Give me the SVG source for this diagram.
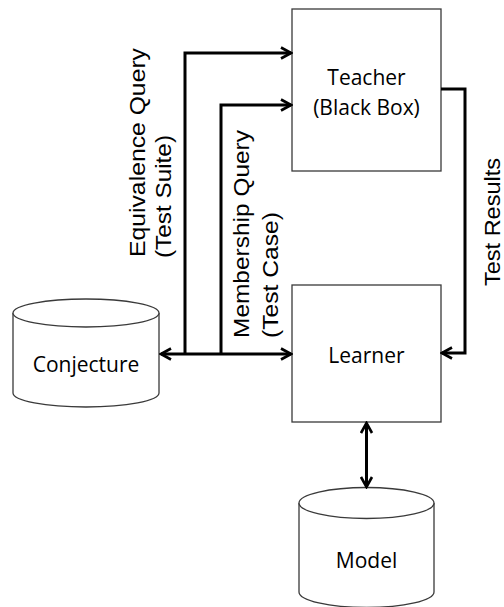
<svg xmlns="http://www.w3.org/2000/svg" width="504" height="607" viewBox="0 0 504 607">
<style>
.box{fill:#fff;stroke:#3a3a3a;stroke-width:1.3}
.node{font-family:"Open Sans","Noto Sans",sans-serif;font-size:21px;fill:#000;text-anchor:middle}
.lbl{font-family:"Liberation Sans",Arial,sans-serif;font-size:22px;fill:#000}
.conn{fill:none;stroke:#000;stroke-width:3;stroke-linejoin:miter}
</style>
<defs>
<marker id="ah" viewBox="0 0 14 14" refX="12" refY="7" markerWidth="14" markerHeight="14" markerUnits="userSpaceOnUse" orient="auto-start-reverse">
<path d="M2,1.5 L12,7 L2,12.5" fill="none" stroke="#000" stroke-width="2.6"/>
</marker>
</defs>
<rect width="504" height="607" fill="#fff"/>
<g id="teacher">
<rect class="box" x="292" y="9" width="149" height="162"/>
<text class="node" x="366.5" y="85">Teacher</text>
<text class="node" x="366.5" y="115">(Black Box)</text>
</g>
<g id="learner">
<rect class="box" x="292" y="285" width="149" height="137"/>
<text class="node" x="366.5" y="363">Learner</text>
</g>
<g id="conjecture">
<path class="box" d="M13,313 L13,393 A73,14 0 0 0 159,393 L159,313"/>
<ellipse class="box" cx="86" cy="313" rx="73" ry="14"/>
<text class="node" x="86" y="372">Conjecture</text>
</g>
<g id="model">
<path class="box" d="M299,503 L299,592 A67.5,15.5 0 0 0 434,592 L434,503"/>
<ellipse class="box" cx="366.5" cy="503" rx="67.5" ry="15.5"/>
<text class="node" x="366.5" y="568">Model</text>
</g>
<g id="connectors">
<path class="conn" d="M185,354 L185,53 L291,53" marker-end="url(#ah)"/>
<path class="conn" d="M221,354 L221,105 L291,105" marker-end="url(#ah)"/>
<path class="conn" d="M161,354 L291,354" marker-start="url(#ah)" marker-end="url(#ah)"/>
<path class="conn" d="M441,89 L465,89 L465,353 L442,353" marker-end="url(#ah)"/>
<path class="conn" d="M366.5,423 L366.5,487" marker-start="url(#ah)" marker-end="url(#ah)"/>
</g>
<g id="labels">
<text class="lbl" transform="translate(145,257) rotate(-90)" textLength="209" lengthAdjust="spacingAndGlyphs">Equivalence Query</text>
<text class="lbl" transform="translate(171,258) rotate(-90)" textLength="123" lengthAdjust="spacingAndGlyphs">(Test Suite)</text>
<text class="lbl" transform="translate(249,338) rotate(-90)" textLength="208" lengthAdjust="spacingAndGlyphs">Membership Query</text>
<text class="lbl" transform="translate(278,338) rotate(-90)" textLength="126" lengthAdjust="spacingAndGlyphs">(Test Case)</text>
<text class="lbl" transform="translate(500,286) rotate(-90)" textLength="128" lengthAdjust="spacingAndGlyphs">Test Results</text>
</g>
</svg>
